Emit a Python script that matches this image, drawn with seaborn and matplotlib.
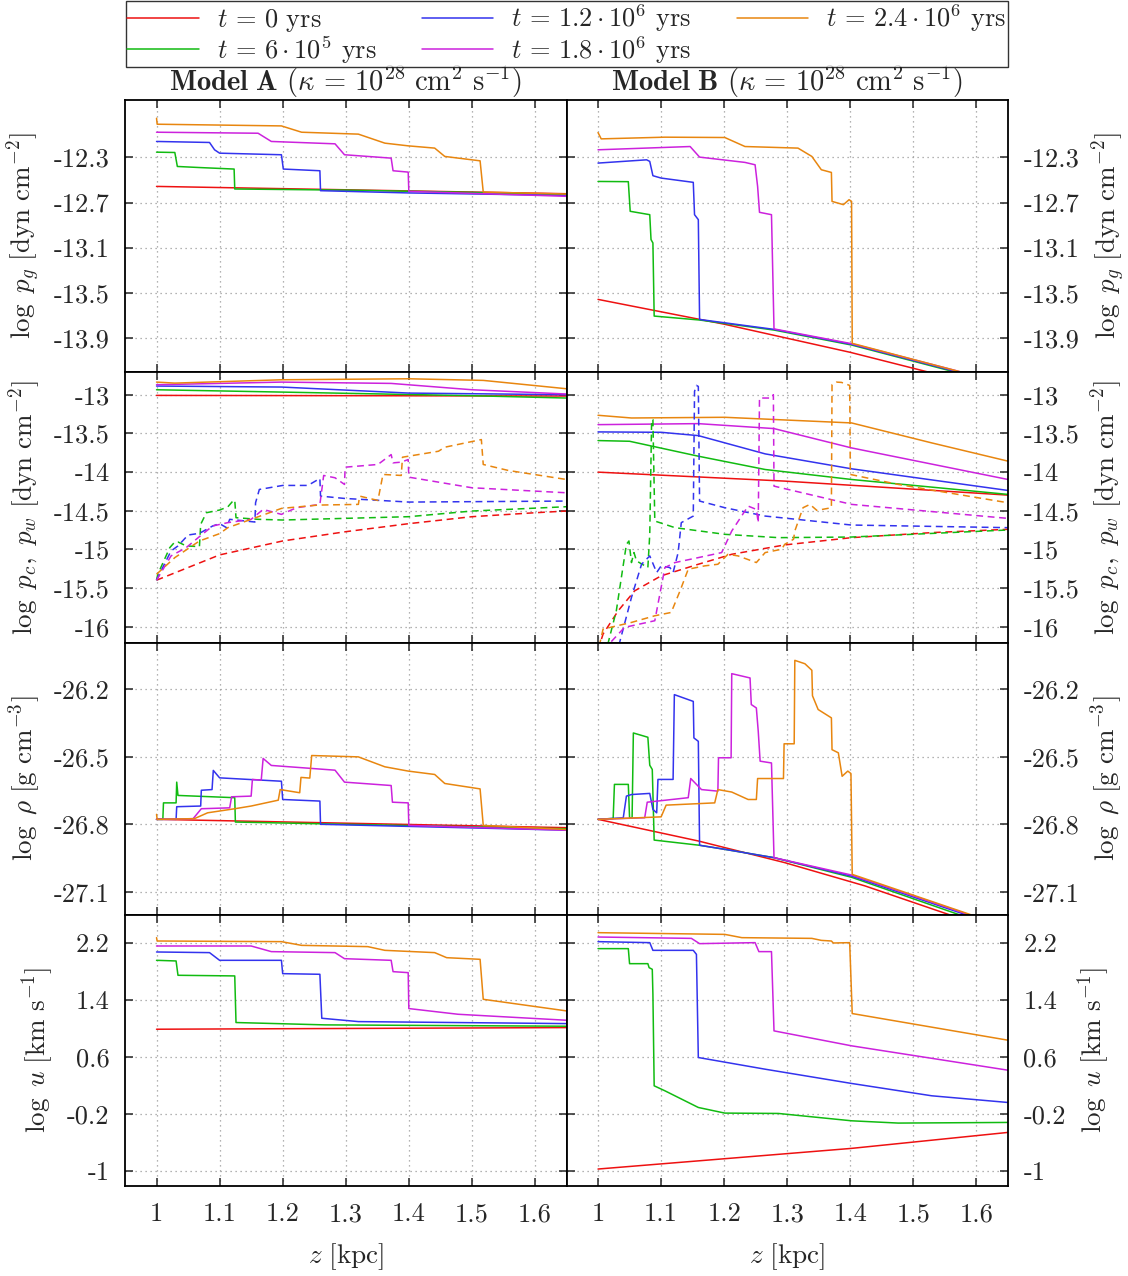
import matplotlib
matplotlib.use("Agg")
import matplotlib.pyplot as plt
from matplotlib.lines import Line2D
import pandas as pd
import seaborn as sns

# ---------------- labels / colours ----------------
times = [r"$t\,=\,0$ yrs", r"$t\,=\,6\cdot10^{5}$ yrs", r"$t\,=\,1.2\cdot10^{6}$ yrs",
         r"$t\,=\,1.8\cdot10^{6}$ yrs", r"$t\,=\,2.4\cdot10^{6}$ yrs"]
colors = ["#ee1111", "#11bb11", "#3333ee", "#cc22dd", "#e8860f"]
model_titles = [r"$\mathbf{Model\ A}$ $(\kappa\,=\,10^{28}\ \mathrm{cm}^{2}\ \mathrm{s}^{-1})$",
                r"$\mathbf{Model\ B}$ $(\kappa\,=\,10^{28}\ \mathrm{cm}^{2}\ \mathrm{s}^{-1})$"]
row_labels = [r"$\log\ p_g\ [\mathrm{dyn\ cm}^{-2}]$",
              r"$\log\ p_c,\ p_w\ [\mathrm{dyn\ cm}^{-2}]$",
              r"$\log\ \rho\ [\mathrm{g\ cm}^{-3}]$",
              r"$\log\ u\ [\mathrm{km\ s}^{-1}]$"]
x_ticks = [1.0, 1.1, 1.2, 1.3, 1.4, 1.5, 1.6]
x_ticklabels = ["1", "1.1", "1.2", "1.3", "1.4", "1.5", "1.6"]
y_ticks = [[-13.9, -13.5, -13.1, -12.7, -12.3],
           [-16, -15.5, -15, -14.5, -14, -13.5, -13],
           [-27.1, -26.8, -26.5, -26.2],
           [-1, -0.2, 0.6, 1.4, 2.2]]
y_ticklabels = [["-13.9", "-13.5", "-13.1", "-12.7", "-12.3"],
                ["-16", "-15.5", "-15", "-14.5", "-14", "-13.5", "-13"],
                ["-27.1", "-26.8", "-26.5", "-26.2"],
                ["-1", "-0.2", "0.6", "1.4", "2.2"]]
y_limits = [(-14.2, -11.79), (-16.21, -12.70), (-27.2, -25.996), (-1.21, 2.60)]

# ---------------- data: (z [kpc], value) ----------------
# log p_g, model A
pgA_0 = [(1.0, -12.557), (1.65, -12.622)]
pgA_1 = [(1.0, -12.253), (1.029, -12.256), (1.033, -12.38), (1.07, -12.39), (1.123, -12.403),
         (1.124, -12.58), (1.30, -12.59), (1.50, -12.61), (1.65, -12.63)]
pgA_2 = [(1.0, -12.158), (1.084, -12.167), (1.092, -12.232), (1.10, -12.262), (1.198, -12.276),
         (1.201, -12.403), (1.259, -12.418), (1.26, -12.595), (1.40, -12.615), (1.65, -12.637)]
pgA_3 = [(1.0, -12.076), (1.161, -12.085), (1.182, -12.158), (1.283, -12.179), (1.298, -12.276),
         (1.372, -12.306), (1.375, -12.418), (1.399, -12.43), (1.40, -12.601), (1.65, -12.645)]
pgA_4 = [(1.0, -11.952), (1.001, -12.005), (1.198, -12.02), (1.23, -12.076), (1.32, -12.093),
         (1.362, -12.173), (1.399, -12.197), (1.441, -12.217), (1.457, -12.291), (1.513, -12.33),
         (1.518, -12.607), (1.65, -12.625)]
# log p_g, model B
pgB_0 = [(1.0, -13.56), (1.2, -13.78), (1.4, -14.03), (1.52, -14.2), (1.65, -14.37)]
pgB_1 = [(1.0, -12.513), (1.048, -12.515), (1.051, -12.778), (1.082, -12.808), (1.084, -13.029),
         (1.087, -13.059), (1.089, -13.708), (1.161, -13.743), (1.279, -13.832), (1.402, -13.965),
         (1.566, -14.205), (1.65, -14.34)]
pgB_2 = [(1.0, -12.35), (1.077, -12.321), (1.082, -12.335), (1.087, -12.462), (1.10, -12.483),
         (1.151, -12.521), (1.153, -12.808), (1.159, -12.852), (1.161, -13.738), (1.279, -13.826),
         (1.402, -13.959), (1.566, -14.198), (1.65, -14.33)]
pgB_3 = [(1.0, -12.232), (1.146, -12.203), (1.161, -12.297), (1.233, -12.344), (1.249, -12.365),
         (1.253, -12.557), (1.256, -12.787), (1.275, -12.808), (1.279, -13.822), (1.402, -13.953),
         (1.566, -14.19), (1.65, -14.32)]
pgB_4 = [(1.0, -12.079), (1.005, -12.135), (1.106, -12.12), (1.201, -12.123), (1.233, -12.203),
         (1.317, -12.217), (1.339, -12.291), (1.354, -12.409), (1.370, -12.433), (1.371, -12.69),
         (1.389, -12.719), (1.398, -12.675), (1.402, -12.69), (1.403, -13.95), (1.571, -14.198),
         (1.65, -14.31)]

# log p_c (solid), model A
pcA_0 = [(1.0, -13.009), (1.65, -13.017)]
pcA_1 = [(1.0, -12.936), (1.198, -12.966), (1.5, -13.013), (1.65, -13.043)]
pcA_2 = [(1.0, -12.888), (1.198, -12.901), (1.4, -12.979), (1.65, -13.0)]
pcA_3 = [(1.0, -12.871), (1.198, -12.837), (1.372, -12.854), (1.5, -12.936), (1.65, -12.991)]
pcA_4 = [(1.0, -12.837), (1.029, -12.85), (1.198, -12.807), (1.40, -12.794), (1.518, -12.815),
         (1.65, -12.923)]
# log p_w (dashed), model A
pwA_0 = [(1.0, -15.398), (1.10, -15.071), (1.20, -14.891), (1.30, -14.771), (1.40, -14.667),
         (1.50, -14.577), (1.60, -14.526), (1.65, -14.504)]
pwA_1 = [(1.0, -15.398), (1.002, -15.321), (1.021, -14.977), (1.029, -14.904), (1.034, -14.904),
         (1.047, -14.955), (1.068, -14.964), (1.07, -14.676), (1.079, -14.526), (1.10, -14.491),
         (1.113, -14.45), (1.121, -14.375), (1.124, -14.362), (1.126, -14.59), (1.161, -14.611),
         (1.20, -14.62), (1.40, -14.577), (1.50, -14.504), (1.65, -14.448)]
pwA_2 = [(1.0, -15.398), (1.007, -15.278), (1.023, -15.02), (1.034, -14.955), (1.05, -14.814),
         (1.068, -14.792), (1.089, -14.697), (1.10, -14.667), (1.111, -14.719), (1.116, -14.611),
         (1.156, -14.646), (1.157, -14.397), (1.163, -14.225), (1.20, -14.173), (1.24, -14.173),
         (1.259, -14.083), (1.26, -14.311), (1.298, -14.341), (1.40, -14.388), (1.65, -14.375)]
pwA_3 = [(1.0, -15.398), (1.023, -15.084), (1.047, -14.977), (1.068, -14.835), (1.089, -14.697),
         (1.113, -14.654), (1.15, -14.611), (1.169, -14.483), (1.198, -14.547), (1.222, -14.461),
         (1.259, -14.418), (1.265, -14.044), (1.283, -14.074), (1.298, -14.16), (1.299, -13.937),
         (1.351, -13.902), (1.372, -13.774), (1.375, -13.881), (1.388, -13.872), (1.399, -13.838),
         (1.40, -14.066), (1.50, -14.203), (1.65, -14.268)]
pwA_4 = [(1.0, -15.321), (1.029, -15.106), (1.068, -14.891), (1.10, -14.796), (1.113, -14.719),
         (1.15, -14.611), (1.198, -14.47), (1.256, -14.427), (1.32, -14.418), (1.322, -14.311),
         (1.351, -14.367), (1.359, -14.031), (1.388, -14.044), (1.39, -13.808), (1.447, -13.731),
         (1.457, -13.679), (1.515, -13.58), (1.518, -13.902), (1.558, -13.98), (1.65, -14.096)]
# log p_c (solid), model B
pcB_0 = [(1.0, -14.001), (1.296, -14.117), (1.65, -14.298)]
pcB_1 = [(1.0, -13.593), (1.050, -13.602), (1.159, -13.795), (1.265, -13.967), (1.402, -14.096),
         (1.65, -14.289)]
pcB_2 = [(1.0, -13.481), (1.10, -13.486), (1.159, -13.529), (1.265, -13.765), (1.402, -13.958),
         (1.65, -14.238)]
pcB_3 = [(1.0, -13.387), (1.159, -13.374), (1.279, -13.438), (1.402, -13.688), (1.65, -14.096)]
pcB_4 = [(1.0, -13.266), (1.053, -13.301), (1.201, -13.292), (1.402, -13.365), (1.529, -13.623),
         (1.65, -13.859)]
# log p_w (dashed), model B
pwB_0 = [(1.0, -16.3), (1.008, -16.094), (1.032, -15.793), (1.058, -15.536), (1.10, -15.342),
         (1.159, -15.192), (1.212, -15.063), (1.296, -14.942), (1.402, -14.848), (1.529, -14.783),
         (1.65, -14.74)]
pwB_1 = [(1.0, -16.5), (1.016, -16.21), (1.029, -15.793), (1.045, -14.934), (1.049, -14.891),
         (1.053, -15.17), (1.057, -15.041), (1.061, -15.149), (1.079, -15.235), (1.082, -14.805),
         (1.085, -13.322), (1.087, -13.322), (1.09, -14.633), (1.122, -14.719), (1.201, -14.805),
         (1.286, -14.848), (1.402, -14.84), (1.65, -14.749)]
pwB_2 = [(1.0, -16.6), (1.034, -16.21), (1.053, -15.621), (1.069, -15.192), (1.082, -15.084),
         (1.093, -15.299), (1.10, -15.213), (1.114, -15.235), (1.119, -15.299), (1.127, -15.041),
         (1.132, -14.654), (1.151, -14.569), (1.153, -12.957), (1.156, -12.88), (1.159, -12.893),
         (1.161, -14.375), (1.201, -14.461), (1.265, -14.569), (1.402, -14.685), (1.65, -14.719)]
pwB_3 = [(1.0, -16.6), (1.019, -16.21), (1.042, -16.008), (1.09, -15.922), (1.10, -15.493),
         (1.106, -15.235), (1.122, -15.17), (1.159, -15.106), (1.196, -15.041), (1.212, -14.762),
         (1.238, -14.44), (1.251, -14.483), (1.254, -14.654), (1.256, -13.043), (1.275, -13.043),
         (1.278, -13.0), (1.279, -14.182), (1.402, -14.418), (1.65, -14.599)]
pwB_4 = [(1.0, -16.4), (1.003, -16.21), (1.008, -16.03), (1.053, -15.944), (1.09, -15.858),
         (1.116, -15.815), (1.13, -15.536), (1.143, -15.256), (1.169, -15.213), (1.19, -15.192),
         (1.206, -15.063), (1.222, -15.084), (1.251, -15.17), (1.265, -15.041), (1.291, -14.998),
         (1.296, -14.934), (1.31, -14.869), (1.312, -14.762), (1.325, -14.461), (1.336, -14.418),
         (1.347, -14.496), (1.37, -14.461), (1.371, -12.871), (1.378, -12.837), (1.386, -12.841),
         (1.399, -12.88), (1.40, -14.031), (1.476, -14.16), (1.65, -14.397)]

# log rho, model A
rhoA_0 = [(1.0, -26.778), (1.65, -26.815)]
rhoA_1 = [(1.0, -26.778), (1.010, -26.778), (1.011, -26.705), (1.031, -26.705), (1.032, -26.613),
          (1.034, -26.672), (1.124, -26.682), (1.125, -26.79), (1.30, -26.80), (1.65, -26.82)]
rhoA_2 = [(1.0, -26.778), (1.031, -26.778), (1.032, -26.722), (1.07, -26.719), (1.071, -26.649),
          (1.088, -26.646), (1.09, -26.561), (1.10, -26.594), (1.198, -26.609), (1.20, -26.69),
          (1.259, -26.697), (1.26, -26.80), (1.65, -26.826)]
rhoA_3 = [(1.0, -26.778), (1.058, -26.775), (1.071, -26.731), (1.116, -26.727), (1.119, -26.678),
          (1.150, -26.675), (1.152, -26.601), (1.166, -26.604), (1.169, -26.508), (1.182, -26.539),
          (1.283, -26.56), (1.298, -26.613), (1.372, -26.628), (1.374, -26.702), (1.399, -26.705),
          (1.40, -26.805), (1.65, -26.826)]
rhoA_4 = [(1.0, -26.756), (1.001, -26.778), (1.06, -26.775), (1.081, -26.749), (1.124, -26.731),
          (1.15, -26.719), (1.193, -26.693), (1.196, -26.646), (1.227, -26.66), (1.229, -26.592),
          (1.243, -26.595), (1.246, -26.495), (1.32, -26.501), (1.362, -26.545), (1.399, -26.564),
          (1.441, -26.579), (1.457, -26.619), (1.513, -26.643), (1.518, -26.805), (1.65, -26.823)]
# log rho, model B
rhoB_0 = [(1.0, -26.778), (1.159, -26.874), (1.296, -26.97), (1.423, -27.073), (1.556, -27.2),
          (1.65, -27.3)]
rhoB_1 = [(1.0, -26.778), (1.024, -26.774), (1.026, -26.623), (1.048, -26.623), (1.05, -26.771),
          (1.054, -26.771), (1.056, -26.395), (1.079, -26.414), (1.082, -26.538), (1.086, -26.557),
          (1.089, -26.87), (1.161, -26.893), (1.201, -26.911), (1.279, -26.948), (1.402, -27.035),
          (1.582, -27.21), (1.65, -27.29)]
rhoB_2 = [(1.0, -26.778), (1.04, -26.771), (1.045, -26.675), (1.053, -26.668), (1.082, -26.663),
          (1.087, -26.734), (1.093, -26.749), (1.095, -26.601), (1.119, -26.601), (1.121, -26.225),
          (1.151, -26.255), (1.152, -26.417), (1.159, -26.432), (1.161, -26.893), (1.201, -26.911),
          (1.279, -26.948), (1.402, -27.03), (1.582, -27.2), (1.65, -27.28)]
rhoB_3 = [(1.0, -26.778), (1.074, -26.771), (1.078, -26.702), (1.143, -26.682), (1.147, -26.597),
          (1.164, -26.646), (1.19, -26.653), (1.191, -26.505), (1.211, -26.505), (1.212, -26.132),
          (1.241, -26.151), (1.243, -26.269), (1.251, -26.284), (1.254, -26.387), (1.257, -26.52),
          (1.275, -26.528), (1.279, -26.948), (1.402, -27.025), (1.582, -27.195), (1.65, -27.27)]
rhoB_4 = [(1.0, -26.778), (1.10, -26.767), (1.108, -26.715), (1.185, -26.705), (1.19, -26.646),
          (1.212, -26.657), (1.238, -26.69), (1.251, -26.69), (1.253, -26.597), (1.294, -26.597),
          (1.295, -26.443), (1.311, -26.443), (1.312, -26.073), (1.328, -26.088), (1.339, -26.117),
          (1.34, -26.23), (1.349, -26.291), (1.37, -26.328), (1.371, -26.469), (1.381, -26.483),
          (1.387, -26.587), (1.396, -26.564), (1.401, -26.575), (1.403, -27.022), (1.59, -27.2),
          (1.65, -27.26)]

# log u, model A
uA_0 = [(1.0, 0.99), (1.65, 1.013)]
uA_1 = [(1.0, 1.957), (1.031, 1.948), (1.034, 1.747), (1.124, 1.738), (1.126, 1.084),
        (1.267, 1.051), (1.65, 1.032)]
uA_2 = [(1.0, 2.074), (1.084, 2.065), (1.10, 1.957), (1.198, 1.957), (1.20, 1.77), (1.259, 1.761),
        (1.262, 1.144), (1.32, 1.097), (1.65, 1.069)]
uA_3 = [(1.0, 2.158), (1.150, 2.158), (1.182, 2.079), (1.283, 2.065), (1.298, 1.98), (1.372, 1.957),
        (1.375, 1.798), (1.399, 1.784), (1.40, 1.28), (1.478, 1.2), (1.65, 1.116)]
uA_4 = [(1.0, 2.275), (1.001, 2.228), (1.198, 2.219), (1.23, 2.167), (1.335, 2.149), (1.362, 2.097),
        (1.441, 2.065), (1.46, 1.994), (1.513, 1.971), (1.518, 1.41), (1.65, 1.247)]
# log u, model B
uB_0 = [(1.0, -0.972), (1.402, -0.682), (1.65, -0.458)]
uB_1 = [(1.0, 2.121), (1.048, 2.121), (1.05, 1.91), (1.079, 1.91), (1.081, 1.854), (1.086, 1.831),
        (1.087, 1.481), (1.089, 0.196), (1.106, 0.126), (1.159, -0.108), (1.201, -0.187),
        (1.286, -0.192), (1.402, -0.295), (1.476, -0.327), (1.65, -0.318)]
uB_2 = [(1.0, 2.219), (1.082, 2.205), (1.087, 2.097), (1.151, 2.097), (1.156, 2.041),
        (1.159, 0.593), (1.265, 0.429), (1.402, 0.229), (1.529, 0.056), (1.65, -0.038)]
uB_3 = [(1.0, 2.284), (1.148, 2.265), (1.161, 2.191), (1.249, 2.205), (1.255, 2.079),
        (1.275, 2.079), (1.279, 0.967), (1.402, 0.757), (1.65, 0.415)]
uB_4 = [(1.0, 2.345), (1.201, 2.321), (1.228, 2.275), (1.339, 2.265), (1.354, 2.237), (1.37, 2.228),
        (1.373, 2.2), (1.399, 2.205), (1.403, 1.21), (1.65, 0.836)]

panels = [
    [([pgA_0, pgA_1, pgA_2, pgA_3, pgA_4], "-")],
    [([pgB_0, pgB_1, pgB_2, pgB_3, pgB_4], "-")],
    [([pcA_0, pcA_1, pcA_2, pcA_3, pcA_4], "-"), ([pwA_0, pwA_1, pwA_2, pwA_3, pwA_4], "--")],
    [([pcB_0, pcB_1, pcB_2, pcB_3, pcB_4], "-"), ([pwB_0, pwB_1, pwB_2, pwB_3, pwB_4], "--")],
    [([rhoA_0, rhoA_1, rhoA_2, rhoA_3, rhoA_4], "-")],
    [([rhoB_0, rhoB_1, rhoB_2, rhoB_3, rhoB_4], "-")],
    [([uA_0, uA_1, uA_2, uA_3, uA_4], "-")],
    [([uB_0, uB_1, uB_2, uB_3, uB_4], "-")],
]

# ---------------- style ----------------
sns.set_style("ticks")
plt.rcParams.update({
    "font.family": ["cmr10", "DejaVu Serif"],
    "mathtext.fontset": "cm",
    "axes.unicode_minus": False,
    "axes.formatter.use_mathtext": True,
    "axes.linewidth": 1.3,
    "axes.edgecolor": "black",
})
FS_TICK = 19
FS_LAB = 19.5
FS_TITLE = 20.5
FS_LEG = 19

fig, axes = plt.subplots(4, 2, figsize=(11.28, 12.76), dpi=100, sharex=True)
fig.subplots_adjust(left=125 / 1128, right=1008 / 1128, top=1 - 100 / 1276,
                    bottom=1 - 1186 / 1276, hspace=0, wspace=0)

for idx, groups in enumerate(panels):
    r, c = divmod(idx, 2)
    ax = axes[r, c]
    for series_list, ls in groups:
        for k, pts in enumerate(series_list):
            df = pd.DataFrame(pts, columns=["z", "v"])
            dash = (0, (4.5, 3)) if ls == "--" else "-"
            sns.lineplot(data=df, x="z", y="v", color=colors[k], sort=False, estimator=None,
                         linewidth=1.1, linestyle=dash, ax=ax)
    ax.set_xlim(0.95, 1.65)
    ax.set_ylim(*y_limits[r])
    ax.set_yticks(y_ticks[r])
    ax.set_yticklabels(y_ticklabels[r])
    ax.set_xticks(x_ticks)
    ax.set_xticklabels(x_ticklabels)
    ax.grid(True, color="#9a9a9a", linestyle=(0, (1, 3)), linewidth=0.9)
    ax.tick_params(direction="in", top=True, right=True, length=6, width=1.1,
                   labelsize=FS_TICK)
    ax.tick_params(axis="y", pad=11)
    ax.tick_params(axis="x", pad=12)
    ax.set_xlabel("")
    ax.set_ylabel("")
    if c == 0:
        ax.tick_params(labelleft=True, labelright=False)
        ax.set_ylabel(row_labels[r], fontsize=FS_LAB, labelpad=8)
    else:
        ax.tick_params(labelleft=False, labelright=True)
        ax.yaxis.set_label_position("right")
        ax.set_ylabel(row_labels[r], fontsize=FS_LAB, labelpad=7)
    if r == 0:
        ax.set_title(model_titles[c], fontsize=FS_TITLE, pad=4)
    if r == 3:
        ax.set_xlabel(r"$z\ [\mathrm{kpc}]$", fontsize=FS_LAB, labelpad=11)
    for s in ax.spines.values():
        s.set_visible(True)
        s.set_linewidth(1.3)

handles = [Line2D([0], [0], color=col, lw=1.1) for col in colors]
fig.legend(handles, times, ncol=3, loc="lower left",
           bbox_to_anchor=(126 / 1128, 1 - 67 / 1276, 882 / 1128, 66 / 1276),
           mode="expand", frameon=True, fancybox=False, edgecolor="black",
           fontsize=FS_LEG, handlelength=2.7, borderpad=0.05, labelspacing=0.0,
           columnspacing=1.0, handletextpad=0.7, borderaxespad=0.0)
leg = fig.legends[0]
leg.get_frame().set_linewidth(1.0)

fig.savefig("out.png", dpi=100)
